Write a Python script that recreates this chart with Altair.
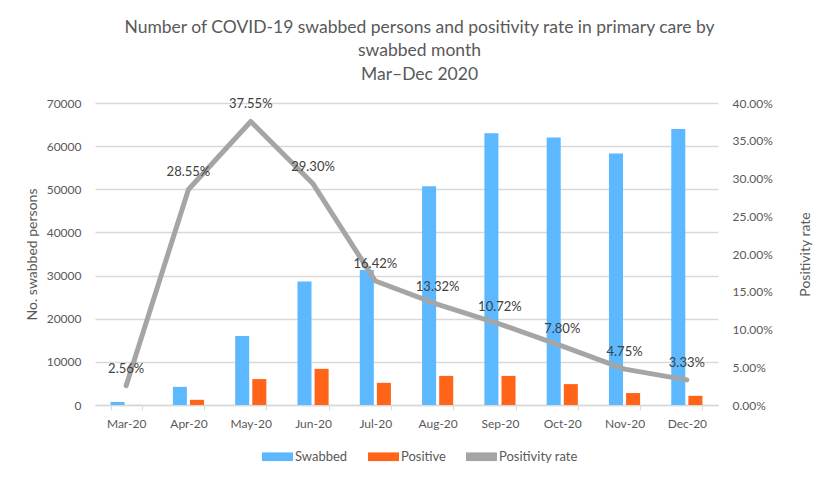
import altair as alt
import pandas as pd

months = ["Mar-20", "Apr-20", "May-20", "Jun-20", "Jul-20",
          "Aug-20", "Sep-20", "Oct-20", "Nov-20", "Dec-20"]
swabbed = [700, 4200, 16000, 28600, 31300, 50700, 63000, 62000, 58300, 64000]
positive = [18, 1200, 6010, 8380, 5140, 6750, 6750, 4840, 2770, 2130]
rate = [0.0256, 0.2855, 0.3755, 0.2930, 0.1642, 0.1332, 0.1072, 0.0780, 0.0475, 0.0333]

series_names = ["Swabbed", "Positive", "Positivity rate"]
series_colors = ["#5CB8FF", "#FF6418", "#A5A5A5"]
left_ticks = [0, 10000, 20000, 30000, 40000, 50000, 60000, 70000]
right_ticks = [0, 0.05, 0.10, 0.15, 0.20, 0.25, 0.30, 0.35, 0.40]

FONT = "Lato"
GREY = "#595959"

bars_df = pd.DataFrame(
    [{"month": m, "series": "Swabbed", "value": s} for m, s in zip(months, swabbed)]
    + [{"month": m, "series": "Positive", "value": p} for m, p in zip(months, positive)]
)
line_df = pd.DataFrame({"month": months, "rate": rate, "series": "Positivity rate"})

color = alt.Color(
    "series:N",
    scale=alt.Scale(domain=series_names, range=series_colors),
    legend=alt.Legend(
        orient="none", legendX=167, legendY=338, title=None, direction="horizontal",
        symbolType="M-1,-0.28H1V0.28H-1Z", symbolSize=961,
        symbolStrokeWidth=0, labelFont=FONT, labelFontSize=13, labelColor=GREY,
        columnPadding=20, labelOffset=2,
    ),
)

x = alt.X(
    "month:N", sort=months,
    scale=alt.Scale(paddingInner=0.5, paddingOuter=0.25),
    axis=alt.Axis(title=None, labelAngle=0, labelFont=FONT, labelFontSize=12,
                  labelColor=GREY, tickBand="extent", tickColor="#D9D9D9",
                  domainColor="#D9D9D9", domainWidth=1.5, tickSize=5, labelPadding=8,
                  grid=False),
)

right_axis = alt.Axis(orient="right", values=right_ticks, format=".2%",
                      title="Positivity rate", titleFont=FONT, titleFontSize=14,
                      titleFontWeight="normal", titleColor=GREY, labelFont=FONT,
                      labelFontSize=12, labelColor=GREY, domain=False, ticks=False,
                      grid=False, labelPadding=14, titlePadding=40, titleAngle=270)
right_scale = alt.Scale(domain=[0, 0.4], nice=False)

bars = alt.Chart(bars_df).mark_bar().encode(
    x=x,
    xOffset=alt.XOffset("series:N", sort=["Swabbed", "Positive"],
                        scale=alt.Scale(paddingInner=0.18)),
    y=alt.Y("value:Q", scale=alt.Scale(domain=[0, 70000], nice=False),
            axis=alt.Axis(values=left_ticks, format="d", title="No. swabbed persons",
                          titleFont=FONT, titleFontSize=14, titleFontWeight="normal",
                          titleColor=GREY, labelFont=FONT, labelFontSize=12,
                          labelColor=GREY, domain=False, ticks=False, grid=True,
                          gridColor="#D9D9D9", gridWidth=1.5, labelPadding=14,
                          titlePadding=7)),
    color=color,
)

line = alt.Chart(line_df).mark_line(strokeWidth=5, strokeCap="round", strokeJoin="round").encode(
    x=x,
    y=alt.Y("rate:Q", scale=right_scale, axis=right_axis),
    color=color,
)

text = alt.Chart(line_df).mark_text(dy=-17, font=FONT, fontSize=13, color="#404040").encode(
    x=x,
    y=alt.Y("rate:Q", scale=right_scale, axis=right_axis),
    text=alt.Text("rate:Q", format=".2%"),
)

chart = alt.layer(bars, alt.layer(line, text)).resolve_scale(y="independent").properties(
    width=623, height=302,
    autosize=alt.AutoSizeParams(type="none"),
    padding={"left": 87, "top": 95, "right": 114, "bottom": 67},
    title=alt.TitleParams(
        text=["Number of COVID-19 swabbed persons and positivity rate in primary care by",
              "swabbed month", "Mar\u2013Dec 2020"],
        font=FONT, fontSize=17.5, fontWeight="normal", color=GREY, lineHeight=23.5,
        anchor="middle", offset=14, dx=13,
    ),
    background="white",
).configure_view(stroke=None)

chart.save("out.html", embed_options={"renderer": "svg", "actions": False})
